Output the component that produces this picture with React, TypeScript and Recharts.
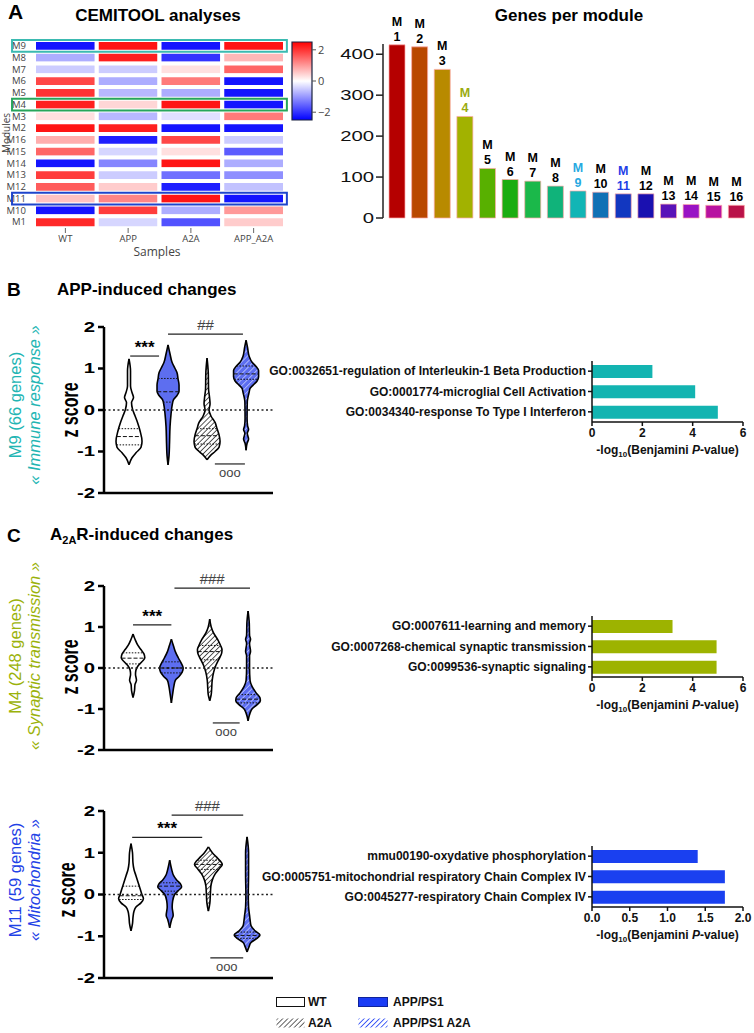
import React from "react";
import {
  Area,
  Bar,
  BarChart,
  Cell,
  ComposedChart,
  LabelList,
  ReferenceArea,
  ReferenceLine,
  XAxis,
  YAxis,
} from "recharts";

const FONT = "'Liberation Sans', Arial, Helvetica, sans-serif";
const PLOTLY_FONT = "'Open Sans', 'DejaVu Sans', sans-serif";

// ---------- A: CEMITOOL heatmap ----------
const HEAT_MODULES = ["M9", "M8", "M7", "M6", "M5", "M4", "M3", "M2", "M16", "M15", "M14", "M13", "M12", "M11", "M10", "M1"];
const HEAT_SAMPLES = ["WT", "APP", "A2A", "APP_A2A"];
const HEAT_WT = [-2.3, -0.8, -0.5, 1.8, 2.0, 2.2, 0.3, 2.3, 0.8, 1.5, -2.3, 1.9, 1.6, 0.6, -2.3, 2.1];
const HEAT_APP = [2.3, 2.2, -0.5, -0.8, -0.7, 0.4, -0.7, 2.2, -2.2, -0.4, -1.2, -0.5, 0.5, 1.2, 1.9, -0.4];
const HEAT_A2A = [-2.3, -2.0, 0.3, 1.3, -0.8, 2.3, -0.3, -2.3, 1.8, 0.3, 2.3, -1.4, -2.2, 2.3, -0.8, -1.7];
const HEAT_APP_A2A = [2.3, 0.7, 1.5, -2.3, -2.3, -2.3, 1.3, -2.3, -0.5, -1.6, -0.8, -1.1, -0.6, -2.3, 1.0, 0.5];
const HEAT_COLUMNS = [HEAT_WT, HEAT_APP, HEAT_A2A, HEAT_APP_A2A];
const HEAT_BOXES = [
  { module: "M9", color: "#3bbab1" },
  { module: "M4", color: "#27a55b" },
  { module: "M11", color: "#1e45cc" },
];
const COLORBAR_TICKS = [-2, 0, 2];

// ---------- A: genes per module ----------
const GENE_IDS = ["1", "2", "3", "4", "5", "6", "7", "8", "9", "10", "11", "12", "13", "14", "15", "16"];
const GENE_COUNTS = [423, 418, 363, 248, 121, 94, 90, 78, 66, 63, 59, 59, 34, 33, 31, 31];
const GENE_COLORS = [
  "#b50000", "#b94800", "#b88a00", "#a2b200", "#58b000", "#1cad10", "#1bb84a", "#10b37a",
  "#12b5b5", "#1270b5", "#1237c0", "#1a10b0", "#5a12b8", "#9a12c4", "#b812a0", "#ba1248",
];
const GENE_LABEL_COLORS: Record<string, string> = { "4": "#9aab10", "9": "#27a9e1", "11": "#1f3fe6" };
const GENE_TICKS = [0, 100, 200, 300, 400];

// ---------- violins: [z score, half width] ----------
const Z_TICKS = [-2, -1, 0, 1, 2];

const M9_WT = [[1.23, 0], [0.94, 1.5], [0.58, 1.5], [0.42, 3], [0.3, 4.5], [0.18, 2.5], [0.02, 3.5], [-0.14, 6], [-0.3, 8.5], [-0.5, 11], [-0.75, 13], [-0.9, 12], [-1.03, 7], [-1.15, 3], [-1.32, 0]];
const M9_APP = [[1.57, 0], [1.35, 2], [1.15, 4], [1.0, 7], [0.9, 9], [0.75, 10], [0.6, 11], [0.45, 11], [0.35, 9], [0.25, 5.5], [0.1, 4], [-0.1, 3], [-0.4, 2], [-0.8, 1.5], [-1.1, 1], [-1.32, 0]];
const M9_A2A = [[1.25, 0], [0.9, 1.2], [0.5, 1.5], [0.3, 2.5], [0.15, 3], [0.0, 2], [-0.15, 4], [-0.3, 8], [-0.45, 10], [-0.6, 12], [-0.75, 13], [-0.9, 12], [-1.0, 8], [-1.08, 4], [-1.2, 0]];
const M9_APP_A2A = [[1.68, 0], [1.5, 1.5], [1.3, 3], [1.15, 6], [1.05, 10], [0.95, 12.5], [0.8, 12.5], [0.7, 11], [0.6, 7], [0.52, 4], [0.42, 3], [0.32, 2], [0.2, 1.2], [-0.2, 1], [-0.38, 1.5], [-0.47, 2.5], [-0.56, 1.2], [-0.7, 2.5], [-0.8, 1], [-0.97, 0]];
const M9_QUARTILES = [[-0.84, -0.64, -0.45], [0.19, 0.44, 0.76], [-0.82, -0.62, -0.45], [0.74, 0.87, 1.06]];
const M9_MARKS = [
  { from: 1.03, to: 1.77, z: 1.3, text: "***" },
  { from: 2.0, to: 3.92, z: 1.83, text: "##" },
  { from: 3.2, to: 3.97, z: -1.3, text: "ooo" },
];

const M4_WT = [[0.83, 0], [0.7, 2], [0.55, 5], [0.45, 8], [0.35, 11], [0.25, 12], [0.15, 9], [0.05, 5], [-0.05, 3], [-0.15, 2.5], [-0.3, 3.5], [-0.4, 2], [-0.55, 1.5], [-0.72, 0]];
const M4_APP = [[0.7, 0], [0.55, 2], [0.4, 4], [0.25, 7], [0.12, 10], [0.0, 12], [-0.1, 11], [-0.2, 8], [-0.3, 4], [-0.45, 2.5], [-0.6, 1.5], [-0.85, 0]];
const M4_A2A = [[1.19, 0], [1.0, 1.5], [0.85, 4], [0.7, 8], [0.55, 11], [0.45, 12.5], [0.35, 12], [0.2, 9], [0.05, 6], [-0.1, 4], [-0.3, 2.5], [-0.5, 2], [-0.65, 1.5], [-0.8, 0]];
const M4_APP_A2A = [[1.39, 0], [1.1, 1.2], [0.8, 1.5], [0.7, 2.5], [0.6, 1.5], [0.4, 2.5], [0.3, 1.5], [0.0, 1.5], [-0.3, 2], [-0.45, 4], [-0.6, 8], [-0.72, 12], [-0.8, 12.5], [-0.9, 9], [-1.0, 4], [-1.1, 2], [-1.29, 0]];
const M4_QUARTILES = [[0.1, 0.24, 0.37], [-0.12, 0.0, 0.15], [0.2, 0.4, 0.55], [-0.85, -0.76, -0.65]];
const M4_MARKS = [
  { from: 1.0, to: 2.0, z: 1.05, text: "***" },
  { from: 2.08, to: 4.05, z: 1.95, text: "###" },
  { from: 3.08, to: 3.78, z: -1.34, text: "ooo" },
];

const M11_WT = [[1.22, 0], [1.0, 1.5], [0.75, 2], [0.6, 3], [0.45, 5], [0.3, 7], [0.15, 9], [0.0, 11], [-0.1, 12.5], [-0.2, 10], [-0.3, 5], [-0.4, 3], [-0.55, 2], [-0.7, 1.5], [-0.87, 0]];
const M11_APP = [[0.82, 0], [0.6, 2], [0.45, 4], [0.35, 7], [0.25, 11], [0.18, 12], [0.1, 9], [0.0, 5], [-0.15, 3], [-0.3, 2.5], [-0.5, 3.5], [-0.6, 2], [-0.8, 0]];
const M11_A2A = [[1.14, 0], [1.0, 4], [0.9, 8], [0.8, 12], [0.72, 14], [0.62, 11], [0.5, 7], [0.35, 4], [0.2, 2.5], [0.0, 2], [-0.2, 1.5], [-0.4, 0]];
const M11_APP_A2A = [[1.38, 0], [1.0, 1.5], [0.5, 1.5], [0.0, 1.2], [-0.3, 1.5], [-0.5, 2.5], [-0.6, 3], [-0.75, 4], [-0.87, 8], [-0.97, 13], [-1.05, 10], [-1.15, 4], [-1.25, 2], [-1.38, 0]];
const M11_QUARTILES = [[-0.12, -0.03, 0.2], [0.08, 0.2, 0.28], [0.6, 0.72, 0.82], [-1.05, -0.98, -0.9]];
const M11_MARKS = [
  { from: 1.03, to: 2.84, z: 1.37, text: "***" },
  { from: 2.05, to: 3.9, z: 1.9, text: "###" },
  { from: 3.05, to: 3.9, z: -1.52, text: "ooo" },
];

// ---------- GO enrichment ----------
const GO_M9_TERMS = [
  "GO:0032651-regulation of Interleukin-1 Beta Production",
  "GO:0001774-microglial Cell Activation",
  "GO:0034340-response To Type I Interferon",
];
const GO_M9_VALUES = [2.4, 4.1, 5.0];
const GO_M4_TERMS = [
  "GO:0007611-learning and memory",
  "GO:0007268-chemical synaptic transmission",
  "GO:0099536-synaptic signaling",
];
const GO_M4_VALUES = [3.2, 4.95, 4.95];
const GO_M11_TERMS = [
  "mmu00190-oxydative phosphorylation",
  "GO:0005751-mitochondrial respiratory Chain Complex IV",
  "GO:0045277-respiratory Chain Complex IV",
];
const GO_M11_VALUES = [1.4, 1.76, 1.76];

const PX_PER_UNIT = 39;

function bwr(v: number) {
  const t = Math.max(-1, Math.min(1, v / 2.5));
  if (t >= 0) {
    const c = Math.round(255 * (1 - t));
    return `rgb(255,${c},${c})`;
  }
  const c = Math.round(255 * (1 + t));
  return `rgb(${c},${c},255)`;
}

function halfAt(profile: number[][], z: number) {
  for (let i = 0; i < profile.length - 1; i++) {
    const [z0, w0] = profile[i];
    const [z1, w1] = profile[i + 1];
    if ((z <= z0 && z >= z1) || (z >= z0 && z <= z1)) {
      const t = z1 === z0 ? 0 : (z - z0) / (z1 - z0);
      return w0 + (w1 - w0) * t;
    }
  }
  return 0;
}

function hatchDefs(p: string) {
  return (
    <defs>
      <pattern id={`${p}-grey`} width={3.6} height={3.6} patternUnits="userSpaceOnUse" patternTransform="rotate(45)">
        <rect width={3.6} height={3.6} fill="#fff" />
        <line x1={0} y1={0} x2={0} y2={3.6} stroke="#222" strokeWidth={1.5} />
      </pattern>
      <pattern id={`${p}-blue`} width={4.2} height={4.2} patternUnits="userSpaceOnUse" patternTransform="rotate(45)">
        <rect width={4.2} height={4.2} fill="#5d6ef0" />
        <line x1={0} y1={0} x2={0} y2={4.2} stroke="#d2d8ff" strokeWidth={1.3} />
      </pattern>
    </defs>
  );
}

function StretchTick(props: any) {
  const { x, y, payload, fs = 14, sx = 1.45 } = props;
  return (
    <text
      transform={`translate(${x},${y}) scale(${sx},1)`}
      textAnchor="end"
      dominantBaseline="central"
      fontSize={fs}
      fontWeight="bold"
      fontFamily={FONT}
      fill="#000"
    >
      {payload.value}
    </text>
  );
}

function GeneTick(props: any) {
  const { x, y, payload } = props;
  return (
    <text
      transform={`translate(${x},${y}) scale(1.45,1)`}
      textAnchor="end"
      dominantBaseline="central"
      fontSize={14}
      fontFamily={FONT}
      fill="#111"
    >
      {payload.value}
    </text>
  );
}

function GoTick(props: any) {
  const { x, y, payload } = props;
  return (
    <text x={x} y={y} textAnchor="end" dominantBaseline="central" fontSize={12} fontWeight="bold" fontFamily={FONT} fill="#111">
      {payload.value}
    </text>
  );
}

const renderGeneLabel = (props: any) => {
  const vb = props.viewBox ?? props;
  const { x, y, width } = vb;
  const id = String(props.value);
  const color = GENE_LABEL_COLORS[id] ?? "#000";
  const cx = x + width / 2;
  return (
    <g fontFamily={FONT} fontWeight="bold" fontSize={12.5} fill={color} textAnchor="middle">
      <text x={cx} y={y - 23} dominantBaseline="central">M</text>
      <text x={cx} y={y - 8} dominantBaseline="central">{id}</text>
    </g>
  );
};

const renderLogLabel = (props: any) => {
  const vb = props.viewBox;
  const cx = vb.x + vb.width / 2;
  return (
    <text x={cx} y={vb.y + 32} textAnchor="middle" fontSize={12} fontWeight="bold" fontFamily={FONT} fill="#111">
      -log<tspan fontSize={8} dy={3}>10</tspan>
      <tspan dy={-3}>(Benjamini </tspan>
      <tspan fontStyle="italic">P</tspan>
      <tspan>-value)</tspan>
    </text>
  );
};

function Txt({ x, y, children, style, anchor = "middle", rotate = false }: any) {
  const tx = anchor === "middle" ? "-50%" : "0";
  return (
    <div
      style={{
        position: "absolute",
        left: x,
        top: y,
        whiteSpace: "nowrap",
        lineHeight: 1.15,
        fontFamily: FONT,
        transform: `translate(${tx},-50%)${rotate ? " rotate(-90deg)" : ""}`,
        ...style,
      }}
    >
      {children}
    </div>
  );
}

const heatRows = HEAT_MODULES.map((m) => ({ module: m, WT: 1, APP: 1, A2A: 1, APP_A2A: 1 }));

function Heatmap() {
  return (
    <div style={{ position: "absolute", left: 0, top: 0 }}>
      <BarChart layout="vertical" width={300} height={262} data={heatRows} margin={{ top: 40, right: 15, left: 0, bottom: 0 }} barCategoryGap={0}>
        <XAxis
          type="number"
          domain={[0, 4]}
          ticks={[0.5, 1.5, 2.5, 3.5]}
          tickFormatter={(v: number) => HEAT_SAMPLES[Math.floor(v)]}
          axisLine={false}
          tickLine={{ stroke: "#666" }}
          tickSize={5}
          tick={{ fontSize: 9.5, fill: "#444", fontFamily: PLOTLY_FONT }}
          height={34}
        />
        <YAxis
          type="category"
          dataKey="module"
          width={34}
          interval={0}
          axisLine={false}
          tickLine={false}
          tickMargin={2}
          tick={{ fontSize: 9.5, fill: "#444", fontFamily: PLOTLY_FONT }}
        />
        {HEAT_SAMPLES.map((s, ci) => (
          <Bar key={s} dataKey={s} stackId="h" stroke="#fff" strokeWidth={4} isAnimationActive={false}>
            {HEAT_COLUMNS[ci].map((v, i) => (
              <Cell key={i} fill={bwr(v)} />
            ))}
          </Bar>
        ))}
      </BarChart>
    </div>
  );
}

// highlight frames drawn in an overlay chart so they sit on top of the cells
function HeatBoxes() {
  return (
    <div style={{ position: "absolute", left: 0, top: 0, pointerEvents: "none" }}>
      <BarChart layout="vertical" width={300} height={262} data={heatRows} margin={{ top: 40, right: 15, left: 0, bottom: 0 }} barCategoryGap={0}>
        <XAxis type="number" domain={[0, 4]} height={34} tick={false} tickLine={false} axisLine={false} />
        <YAxis type="category" dataKey="module" width={34} tick={false} tickLine={false} axisLine={false} />
        {HEAT_SAMPLES.map((s) => (
          <Bar key={s} dataKey={s} stackId="h" fill="none" fillOpacity={0} isAnimationActive={false} />
        ))}
        {HEAT_BOXES.map((b) => (
          <ReferenceArea
            key={b.module}
            y1={b.module}
            y2={b.module}
            x1={-0.35}
            x2={4.03}
            ifOverflow="visible"
            fill="none"
            fillOpacity={0}
            stroke={b.color}
            strokeWidth={2}
            strokeOpacity={1}
          />
        ))}
      </BarChart>
    </div>
  );
}

function ColorBar() {
  return (
    <div style={{ position: "absolute", left: 285, top: 30 }}>
      <BarChart width={60} height={100} data={[{ name: "z", range: [-2.5, 2.5] }]} margin={{ top: 12, right: 0, left: 7, bottom: 10 }} barCategoryGap={0}>
        <defs>
          <linearGradient id="cbar" x1="0" y1="0" x2="0" y2="1">
            <stop offset="0" stopColor="rgb(255,0,0)" />
            <stop offset="0.5" stopColor="#fff" />
            <stop offset="1" stopColor="rgb(0,0,255)" />
          </linearGradient>
        </defs>
        <XAxis dataKey="name" hide />
        <YAxis
          orientation="right"
          type="number"
          domain={[-2.5, 2.5]}
          ticks={COLORBAR_TICKS}
          tickFormatter={(v: number) => (v < 0 ? `\u2212${-v}` : String(v))}
          width={33}
          axisLine={false}
          tickLine={{ stroke: "#555" }}
          tickSize={4}
          tick={{ fontSize: 11, fill: "#444", fontFamily: PLOTLY_FONT }}
        />
        <Bar dataKey="range" fill="url(#cbar)" stroke="#1b2340" strokeWidth={1.2} isAnimationActive={false} />
      </BarChart>
    </div>
  );
}

function GenesChart() {
  const rows = GENE_IDS.map((id, i) => ({ id, genes: GENE_COUNTS[i] }));
  return (
    <div style={{ position: "absolute", left: 330, top: 0 }}>
      <BarChart width={424} height={240} data={rows} margin={{ top: 44, right: 6, left: 0, bottom: 22 }}>
        <XAxis dataKey="id" hide padding={{ left: 3, right: 0 }} />
        <YAxis
          width={53}
          domain={[0, 425]}
          ticks={GENE_TICKS}
          tickSize={7}
          tickMargin={2}
          axisLine={{ stroke: "#222", strokeWidth: 1.5 }}
          tickLine={{ stroke: "#222", strokeWidth: 1.5 }}
          tick={<GeneTick />}
        />
        <Bar dataKey="genes" barSize={16} stroke="rgba(255,170,170,0.7)" strokeWidth={1} isAnimationActive={false}>
          {GENE_COLORS.map((c, i) => (
            <Cell key={i} fill={c} />
          ))}
          <LabelList dataKey="id" content={renderGeneLabel} />
        </Bar>
      </BarChart>
    </div>
  );
}

type Mark = { from: number; to: number; z: number; text: string };

function ViolinChart({ id, top, mTop, mBottom, domain, profiles, quartiles, marks }: any) {
  const fills = ["#fff", "#5d6ef0", `url(#${id}-grey)`, `url(#${id}-blue)`];
  return (
    <div style={{ position: "absolute", left: 0, top }}>
      <ComposedChart layout="vertical" width={290} height={210} margin={{ top: mTop, right: 17, left: 50, bottom: mBottom }}>
        {hatchDefs(id)}
        <XAxis type="number" domain={domain} hide allowDataOverflow />
        <YAxis
          type="number"
          dataKey="z"
          reversed
          domain={[-2, 2]}
          ticks={Z_TICKS}
          width={54}
          tickSize={6}
          tickMargin={3}
          axisLine={{ stroke: "#000", strokeWidth: 2.5 }}
          tickLine={{ stroke: "#000", strokeWidth: 2.5 }}
          tick={<StretchTick fs={14} sx={1.45} />}
        />
        <ReferenceLine y={0} stroke="#222" strokeDasharray="2 2.5" strokeWidth={1.5} />
        {profiles.map((p: number[][], i: number) => (
          <Area
            key={`v${i}`}
            data={p.map(([z, w]) => ({ z, band: [i + 1 - w / PX_PER_UNIT, i + 1 + w / PX_PER_UNIT] }))}
            dataKey="band"
            type="monotone"
            stroke="#000"
            strokeWidth={1.6}
            fill={fills[i]}
            fillOpacity={1}
            dot={false}
            activeDot={false}
            isAnimationActive={false}
          />
        ))}
        {quartiles.flatMap((qs: number[], i: number) =>
          qs.map((q, k) => {
            const w = halfAt(profiles[i], q) / PX_PER_UNIT;
            return (
              <ReferenceLine
                key={`q${i}-${k}`}
                segment={[{ x: i + 1 - w, y: q }, { x: i + 1 + w, y: q }]}
                stroke="#111"
                strokeWidth={1}
                strokeDasharray={k === 1 ? "4 2" : "1.5 1.5"}
              />
            );
          })
        )}
        {marks.map((m: Mark, i: number) => {
          const below = m.text === "ooo";
          const star = m.text === "***";
          return (
            <ReferenceLine
              key={`m${i}`}
              segment={[{ x: m.from, y: m.z }, { x: m.to, y: m.z }]}
              stroke="#222"
              strokeWidth={1.2}
              label={{
                value: m.text,
                position: below ? "bottom" : "top",
                offset: below ? 4 : star ? 3 : 4,
                fill: star ? "#000" : "#444",
                fontSize: star ? 17 : below ? 13 : 15,
                fontWeight: star ? "bold" : "normal",
                fontFamily: FONT,
              }}
            />
          );
        })}
        <ReferenceLine y={-2} stroke="#000" strokeWidth={2.5} />
      </ComposedChart>
    </div>
  );
}

function GoChart({ top, terms, values, color, domain, ticks, fmt }: any) {
  const rows = terms.map((t: string, i: number) => ({ term: t, value: values[i] }));
  return (
    <div style={{ position: "absolute", left: 230, top }}>
      <BarChart layout="vertical" width={524} height={130} data={rows} margin={{ top: 21, right: 11, left: 0, bottom: 0 }} barSize={13}>
        <XAxis
          type="number"
          domain={domain}
          ticks={ticks}
          tickFormatter={fmt}
          height={48}
          axisLine={{ stroke: "#111", strokeWidth: 1.5 }}
          tickLine={{ stroke: "#111", strokeWidth: 1.5 }}
          tickSize={4}
          tick={{ fontSize: 12, fontWeight: "bold", fill: "#111", fontFamily: FONT }}
          label={renderLogLabel}
        />
        <YAxis
          type="category"
          dataKey="term"
          width={362}
          interval={0}
          axisLine={{ stroke: "#111", strokeWidth: 1.5 }}
          tickLine={{ stroke: "#111", strokeWidth: 1.5 }}
          tickSize={4}
          tickMargin={2}
          tick={<GoTick />}
        />
        <Bar dataKey="value" fill={color} isAnimationActive={false} />
      </BarChart>
    </div>
  );
}

function Legend() {
  return (
    <svg style={{ position: "absolute", left: 270, top: 990 }} width={240} height={43}>
      <defs>
        <pattern id="lg-grey" width={3.6} height={3.6} patternUnits="userSpaceOnUse" patternTransform="rotate(45)">
          <rect width={3.6} height={3.6} fill="#fff" />
          <line x1={0} y1={0} x2={0} y2={3.6} stroke="#222" strokeWidth={1.4} />
        </pattern>
        <pattern id="lg-blue" width={3.6} height={3.6} patternUnits="userSpaceOnUse" patternTransform="rotate(45)">
          <rect width={3.6} height={3.6} fill="#fff" />
          <line x1={0} y1={0} x2={0} y2={3.6} stroke="#1a3cf5" strokeWidth={1.6} />
        </pattern>
      </defs>
      <g fontFamily={FONT} fontWeight="bold" fontSize={12} fill="#111">
        <rect x={6.5} y={7.5} width={28} height={9} fill="#fff" stroke="#111" strokeWidth={1} />
        <text x={38} y={12} dominantBaseline="central">WT</text>
        <rect x={6.5} y={28.5} width={28} height={9} fill="url(#lg-grey)" />
        <text x={38} y={33} dominantBaseline="central">A2A</text>
        <rect x={88.5} y={7.5} width={29} height={9} fill="#1a3cf5" stroke="#10239a" strokeWidth={1} />
        <text x={123} y={12} dominantBaseline="central">APP/PS1</text>
        <rect x={88.5} y={28.5} width={29} height={9} fill="url(#lg-blue)" />
        <text x={123} y={33} dominantBaseline="central">APP/PS1 A2A</text>
      </g>
    </svg>
  );
}

function ModuleLabel({ x, y, color, name, desc }: any) {
  return (
    <Txt x={x} y={y} rotate style={{ color, fontSize: 16.5, textAlign: "center", lineHeight: "19px" }}>
      <div>{name}</div>
      <div style={{ fontStyle: "italic" }}>{desc}</div>
    </Txt>
  );
}

function ZLabel({ x, y }: any) {
  return (
    <div
      style={{
        position: "absolute",
        left: x,
        top: y,
        fontFamily: FONT,
        fontWeight: "bold",
        fontSize: 16,
        whiteSpace: "nowrap",
        lineHeight: 1,
        transform: "translate(-50%,-50%) rotate(-90deg) scale(1,1.5)",
      }}
    >
      z score
    </div>
  );
}

export default function App() {
  const fmt1 = (v: number) => v.toFixed(1);
  const fmt0 = (v: number) => String(v);
  return (
    <div style={{ position: "absolute", left: 0, top: 0, width: 754, height: 1033, background: "#fff", overflow: "hidden", fontFamily: FONT }}>
      <Txt x={8} y={12} anchor="start" style={{ fontSize: 21, fontWeight: "bold" }}>A</Txt>
      <Txt x={158} y={16} style={{ fontSize: 17, fontWeight: "bold" }}>CEMITOOL analyses</Txt>
      <Txt x={569} y={16} style={{ fontSize: 17, fontWeight: "bold" }}>Genes per module</Txt>
      <Heatmap />
      <HeatBoxes />
      <ColorBar />
      <Txt x={157} y={252} style={{ fontSize: 12, color: "#444", fontFamily: PLOTLY_FONT }}>Samples</Txt>
      <Txt x={6} y={133} rotate style={{ fontSize: 10, lineHeight: 1, color: "#444", fontFamily: PLOTLY_FONT }}>Modules</Txt>
      <GenesChart />

      <Txt x={7} y={290} anchor="start" style={{ fontSize: 19, fontWeight: "bold" }}>B</Txt>
      <Txt x={57} y={290} anchor="start" style={{ fontSize: 17, fontWeight: "bold" }}>APP-induced changes</Txt>
      <ModuleLabel x={25} y={405} color="#22b5b3" name="M9 (66 genes)" desc="« Immune response »" />
      <ZLabel x={70} y={410} />
      <ViolinChart
        id="m9"
        top={300}
        mTop={27}
        mBottom={17}
        domain={[0.359, 4.69]}
        profiles={[M9_WT, M9_APP, M9_A2A, M9_APP_A2A]}
        quartiles={M9_QUARTILES}
        marks={M9_MARKS}
      />
      <GoChart top={340} terms={GO_M9_TERMS} values={GO_M9_VALUES} color="#13b4b1" domain={[0, 6]} ticks={[0, 2, 4, 6]} fmt={fmt0} />

      <Txt x={7} y={536} anchor="start" style={{ fontSize: 19, fontWeight: "bold" }}>C</Txt>
      <Txt x={50} y={536} anchor="start" style={{ fontSize: 17, fontWeight: "bold" }}>
        A<sub style={{ fontSize: 11 }}>2A</sub>R-induced changes
      </Txt>
      <ModuleLabel x={25} y={656} color="#9bb20a" name="M4 (248 genes)" desc="« Synaptic transmission »" />
      <ZLabel x={70} y={667} />
      <ViolinChart
        id="m4"
        top={560}
        mTop={26}
        mBottom={20}
        domain={[0.243, 4.65]}
        profiles={[M4_WT, M4_APP, M4_A2A, M4_APP_A2A]}
        quartiles={M4_QUARTILES}
        marks={M4_MARKS}
      />
      <GoChart top={595} terms={GO_M4_TERMS} values={GO_M4_VALUES} color="#9db300" domain={[0, 6]} ticks={[0, 2, 4, 6]} fmt={fmt0} />

      <ModuleLabel x={25} y={880} color="#1f42e6" name="M11 (59 genes)" desc="« Mitochondria »" />
      <ZLabel x={67} y={890} />
      <ViolinChart
        id="m11"
        top={785}
        mTop={26}
        mBottom={17}
        domain={[0.302, 4.67]}
        profiles={[M11_WT, M11_APP, M11_A2A, M11_APP_A2A]}
        quartiles={M11_QUARTILES}
        marks={M11_MARKS}
      />
      <GoChart top={825} terms={GO_M11_TERMS} values={GO_M11_VALUES} color="#1a40f0" domain={[0, 2]} ticks={[0, 0.5, 1, 1.5, 2]} fmt={fmt1} />

      <Legend />
    </div>
  );
}
